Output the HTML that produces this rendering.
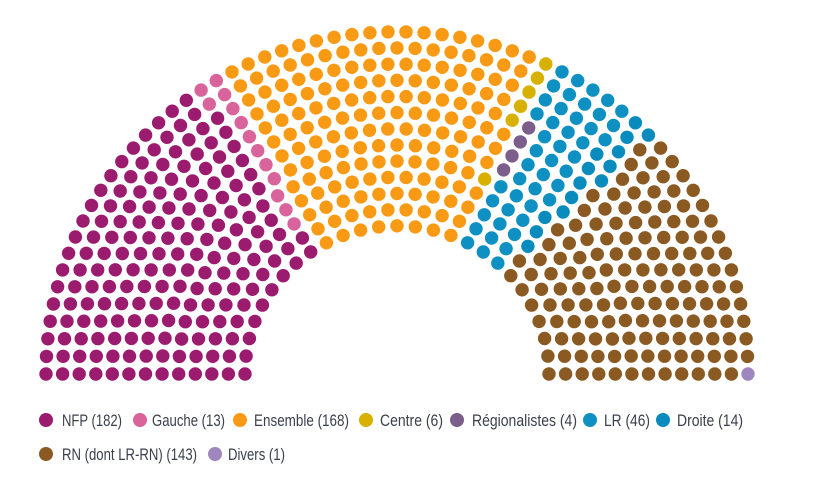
<!DOCTYPE html>
<html><head><meta charset="utf-8"><style>
html,body{margin:0;padding:0;background:#fff;width:820px;height:485px;overflow:hidden}
svg text{font-family:"Liberation Sans",sans-serif;font-size:16.5px;fill:#3a3f4a}
</style></head><body>
<svg id="s" width="820" height="485" xmlns="http://www.w3.org/2000/svg">
<g id="dots"></g>
<g>
<circle cx="46" cy="420" r="7" fill="#9b1b6f"/><text x="62" y="426" textLength="60" lengthAdjust="spacingAndGlyphs">NFP (182)</text>
<circle cx="140" cy="420" r="7" fill="#d9649b"/><text x="152" y="426" textLength="73" lengthAdjust="spacingAndGlyphs">Gauche (13)</text>
<circle cx="240" cy="420" r="7" fill="#f89a14"/><text x="254" y="426" textLength="95" lengthAdjust="spacingAndGlyphs">Ensemble (168)</text>
<circle cx="366" cy="420" r="7" fill="#d8b000"/><text x="380" y="426" textLength="63" lengthAdjust="spacingAndGlyphs">Centre (6)</text>
<circle cx="457" cy="420" r="7" fill="#7b5e8a"/><text x="472" y="426" textLength="105" lengthAdjust="spacingAndGlyphs">Régionalistes (4)</text>
<circle cx="590" cy="420" r="7" fill="#0e91c2"/><text x="604" y="426" textLength="46" lengthAdjust="spacingAndGlyphs">LR (46)</text>
<circle cx="663" cy="420" r="7" fill="#0a8bbd"/><text x="677" y="426" textLength="66" lengthAdjust="spacingAndGlyphs">Droite (14)</text>
<circle cx="46" cy="454" r="7" fill="#8a5a22"/><text x="62" y="460" textLength="135" lengthAdjust="spacingAndGlyphs">RN (dont LR-RN) (143)</text>
<circle cx="215" cy="454" r="7" fill="#9e86bf"/><text x="228" y="460" textLength="57" lengthAdjust="spacingAndGlyphs">Divers (1)</text>
</g>
</svg>
<script>
(function(){
var parties=[[182,"#9b1b6f"],[13,"#d9649b"],[168,"#f89a14"],[6,"#d8b000"],[4,"#7b5e8a"],[46,"#0e91c2"],[14,"#0a8bbd"],[143,"#8a5a22"],[1,"#9e86bf"]];
var total=577,rows=13,r0=152,r1=351,cx=397,cy=374,sy=0.975;
var radii=[],sum=0;
for(var i=0;i<rows;i++){var r=r0+i*(r1-r0)/(rows-1);radii.push(r);sum+=r;}
var counts=[],c=0;
for(i=0;i<rows;i++){var n=Math.round(total*radii[i]/sum);counts.push(n);c+=n;}
counts[rows-1]+=total-c;
var seats=[];
for(i=0;i<rows;i++){var n=counts[i];for(var j=0;j<n;j++){var a=Math.PI*(1-j/(n-1));seats.push({a:a,r:radii[i]});}}
seats.sort(function(p,q){return (q.a-p.a)||(p.r-q.r);});
var g=document.getElementById("dots"),k=0,html="";
for(var p=0;p<parties.length;p++){for(var m=0;m<parties[p][0];m++){var s=seats[k++];
var x=cx+s.r*Math.cos(s.a),y=cy-s.r*Math.sin(s.a)*sy;
html+='<circle cx="'+x.toFixed(1)+'" cy="'+y.toFixed(1)+'" r="6.7" fill="'+parties[p][1]+'"/>';}}
g.innerHTML=html;
})();
</script>
</body></html>
